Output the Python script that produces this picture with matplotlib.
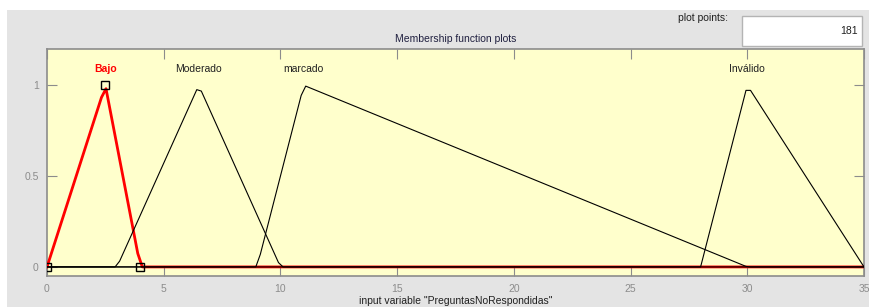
import numpy as np
import matplotlib
matplotlib.use('Agg')
import matplotlib.pyplot as plt
from matplotlib.patches import Rectangle

plt.rcParams['font.family'] = ['Liberation Sans', 'DejaVu Sans']

# funciones de pertenencia (trimf) de la variable de entrada
names = ['Bajo', 'Moderado', 'marcado', 'Inválido']
params = [[0, 2.5, 4], [3, 6.5, 10], [9, 11, 30], [28, 30, 35]]
x_range = [0, 35]
plot_points = 181
xticks = [0, 5, 10, 15, 20, 25, 30, 35]
yticks = [0, 0.5, 1]


def trimf(x, p):
    a, b, c = p
    y = np.zeros_like(x)
    up = (x >= a) & (x <= b)
    dn = (x > b) & (x <= c)
    if b > a:
        y[up] = (x[up] - a) / (b - a)
    else:
        y[x == a] = 1
    if c > b:
        y[dn] = (c - x[dn]) / (c - b)
    return y


x = np.linspace(x_range[0], x_range[1], plot_points)

W, H = 870, 307
fig = plt.figure(figsize=(W / 100, H / 100), dpi=100)
fig.patch.set_facecolor('white')
# fondo gris de la ventana
fig.add_artist(Rectangle((7 / W, 0), 1, 1 - 10 / H, transform=fig.transFigure,
                         facecolor='#e4e4e4', edgecolor='none', zorder=-10))

ax = fig.add_axes([47 / W, 31 / H, 817 / W, 227 / H])
ax.set_facecolor('#ffffcc')

# primero la seleccionada (roja), luego las demás
sel = 0
y_sel = trimf(x, params[sel])
ax.plot(x, y_sel, color='red', lw=2, zorder=3)
for i, p in enumerate(params):
    if i == sel:
        continue
    ax.plot(x, trimf(x, p), color='black', lw=0.8, zorder=4)
ax.plot(params[sel], [0, 1, 0], ls='none', marker='s', ms=6,
        mfc='none', mec='black', mew=1, zorder=5)

for i, (n, p) in enumerate(zip(names, params)):
    if i == sel:
        ax.text(p[1], 1.09, n, color='red', fontsize=7.5, fontweight='bold',
                ha='center', va='center')
    else:
        ax.text(p[1], 1.09, n, color='#202020', fontsize=7.5,
                ha='center', va='center')

ax.set_xlim(x_range)
ax.set_ylim(-0.05, 1.2)
ax.set_xticks(xticks)
ax.set_yticks(yticks)
ax.set_xticklabels([str(t) for t in xticks])
ax.set_yticklabels(['0', '0.5', '1'])
ax.tick_params(direction='in', length=7, width=0.8, color='#8c8c8c',
               labelcolor='#8c8c8c', labelsize=7.5, top=True, right=True, pad=6)
for s in ax.spines.values():
    s.set_color('#8c8c8c')
    s.set_linewidth(1.2)

ax.set_title('Membership function plots', fontsize=7.5, color='#202040', pad=5)
ax.set_xlabel('input variable "PreguntasNoRespondidas"', fontsize=7.5,
              color='#202020', labelpad=1)

# cuadro "plot points"
fig.text(728 / W, 1 - 18 / H, 'plot points:', fontsize=7.5, color='#202020',
         ha='right', va='center')
fig.add_artist(Rectangle((742 / W, 1 - 46 / H), 120 / W, 30 / H,
                         transform=fig.transFigure, facecolor='white',
                         edgecolor='#b4b4b4', lw=1))
fig.text(858 / W, 1 - 31 / H, str(plot_points), fontsize=7.5, color='#202020',
         ha='right', va='center')

fig.savefig('out.png', dpi=100)
